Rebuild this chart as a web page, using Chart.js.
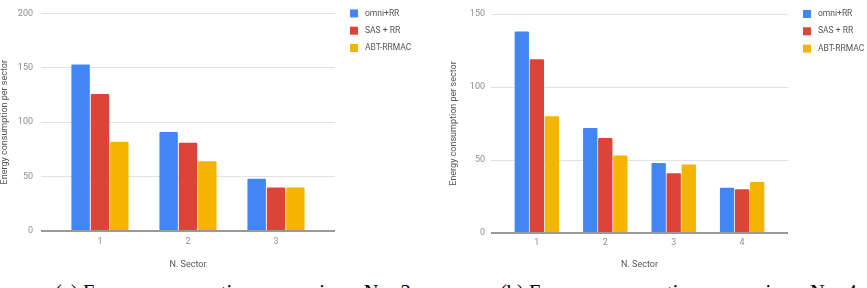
<!DOCTYPE html>
<html>
<head>
<meta charset="utf-8">
<script src="https://cdn.jsdelivr.net/npm/chart.js@4"></script>
<style>
    body { margin: 0; width: 867px; height: 288px; overflow: hidden; background: #fff; position: relative; }
    .box { position: absolute; top: 0; height: 280px; }
    .cap { position: absolute; top: 282px; font: 20.5px "Liberation Serif", "Times New Roman", serif; line-height: 20px; white-space: nowrap; color: #000; }
</style>
</head>
<body>
<div class="box" style="left:0;width:430px"><canvas id="chartA"></canvas></div>
<div class="box" style="left:449px;width:418px"><canvas id="chartB"></canvas></div>
<div class="cap" style="left:55px">(a) Energy consumption comparison, N = 3</div>
<div class="cap" style="left:500px">(b) Energy consumption comparison, N = 4</div>
<script>
    // Series shared by both charts
    const seriesNames = ['omni+RR', 'SAS + RR', 'ABT-RRMAC'];
    const seriesColors = ['#4285F4', '#DB4437', '#F4B400'];

    // (a) N = 3
    const sectorsA = ['1', '2', '3'];
    const omniA = [153, 91, 48];
    const sasA = [126, 81, 40];
    const abtA = [82, 64, 40];

    // (b) N = 4
    const sectorsB = ['1', '2', '3', '4'];
    const omniB = [138, 72, 48, 31];
    const sasB = [119, 65, 41, 30];
    const abtB = [80, 53, 47, 35];

    Chart.defaults.font.family = 'Roboto, Arial, sans-serif';

    // Legend on the right of the plot, square boxes like the original
    const sideLegend = {
        id: 'sideLegend',
        afterDraw(chart) {
            const { ctx, chartArea } = chart;
            ctx.save();
            ctx.font = '8.5px Roboto, Arial, sans-serif';
            ctx.textBaseline = 'middle';
            chart.data.datasets.forEach((ds, i) => {
                const y = chartArea.top + i * 17.3;
                ctx.fillStyle = ds.backgroundColor;
                ctx.fillRect(chartArea.right + 15, y - 4, 8, 8);
                ctx.fillStyle = '#555';
                ctx.fillText(ds.label, chartArea.right + 30, y);
            });
            ctx.restore();
        }
    };

    function drawChart(id, sectors, values, yMax, g) {
        const tickFont = { size: 9 };
        const titleFont = { size: 9, lineHeight: 1 };
        return new Chart(document.getElementById(id), {
            type: 'bar',
            data: {
                datasets: seriesNames.map((name, i) => ({
                    label: name,
                    data: values[i].map((v, j) => ({ x: j + 1, y: v })),
                    backgroundColor: seriesColors[i],
                    borderRadius: 1,
                    categoryPercentage: 0.66,
                    barPercentage: 0.95
                }))
            },
            options: {
                responsive: true,
                maintainAspectRatio: false,
                animation: false,
                layout: { padding: { top: g.top, right: g.right, bottom: g.bottom, left: 0 } },
                plugins: {
                    legend: { display: false },
                    tooltip: { enabled: false }
                },
                scales: {
                    x: {
                        type: 'linear',
                        offset: false,
                        min: 0.33,
                        max: sectors.length + 0.67,
                        afterBuildTicks: s => { s.ticks = sectors.map((_, j) => ({ value: j + 1 })); },
                        afterFit: s => { s.height = g.xHeight; },
                        grid: { display: false, drawTicks: false },
                        border: { display: false },
                        ticks: {
                            callback: v => sectors[v - 1],
                            padding: g.xPad,
                            color: '#8f8f8f',
                            font: tickFont,
                            maxRotation: 0,
                            autoSkip: false
                        },
                        title: { display: true, text: 'N. Sector', color: '#555', font: titleFont, padding: 0 }
                    },
                    y: {
                        min: 0,
                        max: yMax,
                        afterFit: s => { s.width = g.yWidth; },
                        ticks: { stepSize: 50, padding: g.yPad, color: '#8f8f8f', font: tickFont },
                        grid: {
                            drawTicks: false,
                            color: ctx => ctx.tick.value === 0 ? '#999' : '#e3e3e3',
                            lineWidth: ctx => ctx.tick.value === 0 ? 2 : 1
                        },
                        border: { display: false },
                        title: { display: true, text: 'Energy consumption per sector', color: '#555', font: titleFont, padding: 0 }
                    }
                }
            },
            plugins: [sideLegend]
        });
    }

    drawChart('chartA', sectorsA, [omniA, sasA, abtA], 200,
        { top: 10, right: 95, bottom: 10.5, xHeight: 38.5, yWidth: 41, xPad: 5, yPad: 8 });
    drawChart('chartB', sectorsB, [omniB, sasB, abtB], 150,
        { top: 14, right: 79, bottom: 10.5, xHeight: 36.5, yWidth: 42, xPad: 4, yPad: 6 });
</script>
</body>
</html>
